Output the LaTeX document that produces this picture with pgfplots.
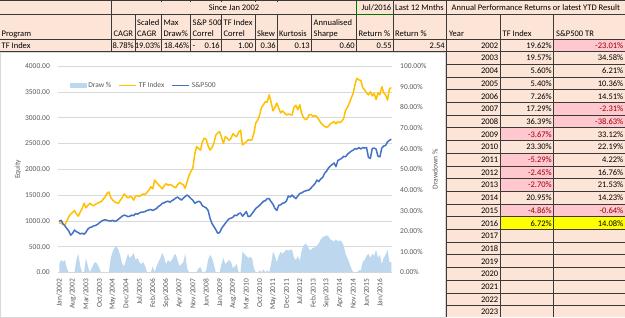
\documentclass[border=0pt]{standalone}
\usepackage{pgfplots}
\pgfplotsset{compat=1.18}
\usepackage{pgfplotstable}
\usepackage{fontspec}
\setmainfont{Carlito}
\definecolor{peach}{HTML}{FCE4D6}
\definecolor{pinkc}{HTML}{FFC7CE}
\definecolor{pinkt}{HTML}{9C0006}
\definecolor{yel}{HTML}{FFFF00}
\definecolor{gold}{HTML}{FFC000}
\definecolor{spblue}{HTML}{4472C4}
\definecolor{ddblue}{HTML}{BDD7EE}
\definecolor{gridgray}{HTML}{D9D9D9}
\definecolor{txtgray}{HTML}{595959}
\definecolor{cellline}{HTML}{3A3A3A}

\pgfplotstableread{
m tf sp dd
0 960 990 4
1 950 1010 6
2 930 940 5
3 920 900 6
4 1000 850 2
5 1080 800 0
6 1130 720 0
7 1160 760 0
8 1200 820 0
9 1130 790 6
10 1090 770 9
11 1170 745 3
12 1240 760 0
13 1340 740 0
14 1250 780 7
15 1300 840 3
16 1340 870 0
17 1310 880 2
18 1290 900 4
19 1320 910 5
20 1340 930 4
21 1360 960 2
22 1370 990 0
23 1420 1010 0
24 1460 1020 0
25 1530 1010 0
26 1560 1000 0
27 1450 995 7
28 1400 1010 10
29 1370 990 12
30 1350 1000 12.5
31 1340 1030 11
32 1400 1060 8
33 1450 1090 4
34 1520 1110 3
35 1480 1100 6
36 1440 1080 9
37 1470 1090 7
38 1460 1110 8
39 1400 1100 9.5
40 1480 1140 6
41 1490 1130 7
42 1470 1150 5
43 1500 1170 4
44 1520 1170 5
45 1510 1180 3
46 1550 1200 0
47 1600 1210 0
48 1660 1220 0
49 1620 1200 3
50 1790 1220 0
51 1740 1240 3
52 1700 1280 5
53 1660 1300 7
54 1620 1340 9.5
55 1680 1350 7
56 1720 1370 4
57 1690 1380 6
58 1700 1360 5
59 1690 1390 6
60 1660 1410 8
61 1640 1440 9
62 1700 1460 6
63 1740 1430 3
64 1720 1400 4
65 1700 1440 5
66 1630 1470 9
67 1760 1500 2
68 1880 1470 0
69 1960 1430 0
70 2020 1400 0
71 2300 1340 0
72 2440 1360 0
73 2400 1380 2
74 2370 1360 2.5
75 2530 1290 0
76 2600 1270 0
77 2580 1250 1
78 2450 1200 6
79 2370 1050 8.5
80 2420 950 7
81 2500 890 4
82 2660 830 0
83 2700 760 0
84 2730 770 0
85 2620 850 4
86 2500 900 7
87 2630 950 4
88 2600 1000 5
89 2560 1040 6
90 2600 1050 5
91 2690 1070 2
92 2650 1110 3
93 2630 1100 4
94 2720 1140 0
95 2760 1150 0
96 2470 1090 10
97 2500 1130 9
98 2530 1180 8
99 2570 1080 7
100 2560 1090 7.5
101 2570 1140 7
102 2700 1190 2
103 2900 1240 0
104 2950 1270 0
105 3050 1300 1
106 3200 1340 0
107 3250 1380 1.5
108 3310 1390 0
109 3300 1430 1
110 3440 1430 0
111 3300 1370 4
112 3130 1320 10
113 3200 1240 8
114 3280 1200 5
115 3180 1300 8
116 3090 1310 10
117 3130 1340 9
118 3090 1350 10
119 3050 1380 11
120 3070 1480 10.5
121 3060 1460 11
122 3050 1500 11
123 3200 1460 7
124 3240 1430 6
125 3150 1480 8
126 3250 1530 5.5
127 3080 1540 10.5
128 3000 1565 13
129 2960 1580 14
130 2980 1590 13
131 3060 1600 11
132 3060 1640 11
133 3020 1680 12
134 3040 1720 12
135 3020 1790 13
136 2960 1760 14
137 2900 1810 16
138 2860 1840 17
139 2830 1920 17.5
140 2810 1960 18
141 2830 2020 17.5
142 2880 2060 16
143 2900 2090 15.5
144 2920 2120 15
145 2880 2050 16
146 2920 2170 15
147 2900 2190 15.5
148 2930 2210 15
149 2980 2250 13
150 3140 2240 9
151 3200 2290 7
152 3280 2320 4.5
153 3380 2350 2
154 3470 2370 0
155 3650 2400 0
156 3760 2390 0
157 3730 2420 1
158 3720 2390 1
159 3580 2420 5
160 3540 2410 6
161 3480 2420 8
162 3440 2230 9
163 3500 2210 7
164 3420 2400 9
165 3470 2410 8
166 3350 2390 11
167 3480 2250 7
168 3440 2240 8.5
169 3600 2410 4
170 3480 2450 7
171 3440 2460 8.5
172 3340 2530 11
173 3560 2560 5
174 3580 2580 5
}\chartdata

\pgfplotsset{
  chartbase/.style={
    at={(58.3pt,-272.4pt)}, anchor=south west,
    scale only axis, width=334pt, height=206.4pt,
    xmin=-0.5, xmax=174.5,
    major tick length=0pt,
    tick style={draw=none},
    ticklabel style={font=\fontsize{7.5}{8.5}\selectfont, text=txtgray, inner sep=0pt},
    clip=false,
  }
}

\begin{document}
\begin{tikzpicture}
\useasboundingbox (0,0) rectangle (625pt,-317pt);
\begin{scope}[x=1pt,y=-1pt]
\fill[peach] (0,0) rectangle (625,317);
% coloured cells
\fill[pinkc] (553.3,38.8) rectangle (625,51.5);
\foreach \k in {5,6,13} {\fill[pinkc] (553.3,{38.8+12.7*\k}) rectangle (625,{51.5+12.7*\k});}
\foreach \k in {7,9,10,11,13} {\fill[pinkc] (500,{38.8+12.7*\k}) rectangle (553.3,{51.5+12.7*\k});}
\fill[yel] (500,{38.8+12.7*14}) rectangle (625,{51.5+12.7*14});
% header lines
\begin{scope}[draw=cellline, line width=0.5pt]
\draw (0,0.6) -- (625,0.6);
\draw (0,14) -- (625,14);
\draw (0,38.8) -- (625,38.8);
\draw (0,51.5) -- (625,51.5);
\foreach \xx in {111.7,135,161.7,190.7,221.7,255,277.3,311.7,356.7,393.3,500,553.3}
  {\draw (\xx,14) -- (\xx,51.5);}
\foreach \xx in {111.7,393.3} {\draw (\xx,0.6) -- (\xx,14);}
\foreach \xx in {161.7,190.7,221.7,255,277.3} {\draw (\xx,0) -- (\xx,1.5);}
\foreach \k in {2,...,22} {\draw (440,{38.8+12.7*\k}) -- (625,{38.8+12.7*\k});}
\draw (500,51.5) -- (500,317);
\draw (553.3,51.5) -- (553.3,317);
\end{scope}
\draw[green!45!black, line width=0.6pt] (356.7,0.6) -- (356.7,14) -- (393.3,14);
\draw[cellline, line width=1.1pt] (446.7,0) -- (446.7,317);
% header texts
\begin{scope}[every node/.style={inner sep=0pt, font=\fontsize{8.5}{9.5}\selectfont}]
\node[anchor=base] at (234,10.5) {Since Jan 2002};
\node[anchor=base east] at (391.5,10.5) {Jul/2016};
\node[anchor=base west] at (395,10.5) {Last 12 Mnths};
\node[anchor=base west] at (451.5,10.5) {Annual Performance Returns or latest YTD Result};
\foreach \xx/\t in {137/Scaled,163.5/Max,192.5/S\&P 500,223.5/TF Index,313.5/Annualised}
  {\node[anchor=base west] at (\xx,25) {\t};}
\foreach \xx/\t in {1.5/Program,113.5/CAGR,137/CAGR,163.5/Draw\%,192.5/Correl,223.5/Correl,257/Skew,279/Kurtosis,313.5/Sharpe,358.5/Return \%,395/Return \%,449/Year,502.5/TF Index,556/S\&P500 TR}
  {\node[anchor=base west] at (\xx,36) {\t};}
\node[anchor=base west] at (1.5,48.2) {TF Index};
\node[anchor=base west] at (192.5,48.2) {-};
\foreach \xx/\t in {134/8.78\%,160.5/19.03\%,189.5/18.46\%,220/0.16,253.5/1.00,276/0.36,310/0.13,355/0.60,392/0.55,445/2.54,498.5/2002,552/19.62\%}
  {\node[anchor=base east] at (\xx,48.2) {\t};}
\node[anchor=base east, text=pinkt] at (623.5,48.2) {-23.01\%};
\foreach \k/\yr/\tf/\sp/\ct/\cs in {
  1/2003/19.57\%/34.58\%/black/black,
  2/2004/5.60\%/6.21\%/black/black,
  3/2005/5.40\%/10.36\%/black/black,
  4/2006/7.26\%/14.51\%/black/black,
  5/2007/17.29\%/-2.31\%/black/pinkt,
  6/2008/36.39\%/-38.63\%/black/pinkt,
  7/2009/-3.67\%/33.12\%/pinkt/black,
  8/2010/23.30\%/22.19\%/black/black,
  9/2011/-5.29\%/4.22\%/pinkt/black,
  10/2012/-2.45\%/16.76\%/pinkt/black,
  11/2013/-2.70\%/21.53\%/pinkt/black,
  12/2014/20.95\%/14.23\%/black/black,
  13/2015/-4.86\%/-0.64\%/pinkt/pinkt,
  14/2016/6.72\%/14.08\%/black/black}
{
  \node[anchor=base east] at (498.5,{48.2+12.7*\k}) {\yr};
  \node[anchor=base east, text=\ct] at (552,{48.2+12.7*\k}) {\tf};
  \node[anchor=base east, text=\cs] at (623.5,{48.2+12.7*\k}) {\sp};
}
\foreach \k/\yr in {15/2017,16/2018,17/2019,18/2020,19/2021,20/2022,21/2023}
  {\node[anchor=base east] at (498.5,{48.2+12.7*\k}) {\yr};}
\end{scope}
% chart area
\fill[white] (0,52) rectangle (445.5,317);
\draw[gridgray, line width=0.5pt] (0.3,52) rectangle (445.5,317.5);
\node[rotate=90, font=\fontsize{7.5}{8.5}\selectfont, text=txtgray, inner sep=0pt] at (18,169.2) {Equity};
\node[rotate=90, font=\fontsize{7.5}{8.5}\selectfont, text=txtgray, inner sep=0pt] at (435,169.2) {Drawdown \%};
\end{scope}

% primary axis: grid and labels
\begin{axis}[chartbase,
  ymin=0, ymax=4000, ytick={0,500,...,4000},
  ymajorgrids, grid style={gridgray, line width=0.6pt},
  axis line style={draw=none},
  yticklabel={\pgfmathprintnumber[fixed,fixed zerofill,precision=2,1000 sep={},assume math mode=true]{\tick}},
  yticklabel shift=8.3pt,
  xtick={0,7,...,168},
  xticklabels={Jan/2002,Aug/2002,Mar/2003,Oct/2003,May/2004,Dec/2004,Jul/2005,Feb/2006,Sep/2006,Apr/2007,Nov/2007,Jun/2008,Jan/2009,Aug/2009,Mar/2010,Oct/2010,May/2011,Dec/2011,Jul/2012,Feb/2013,Sep/2013,Apr/2014,Nov/2014,Jun/2015,Jan/2016},
  xticklabel style={rotate=90, anchor=east},
  xticklabel shift=6pt,
]
\addplot[draw=none, forget plot] coordinates {(0,0)};
\end{axis}

% secondary axis: drawdown area
\begin{axis}[chartbase,
  ymin=0, ymax=100, ytick={0,10,...,100},
  axis y line*=right, axis x line=none,
  axis line style={draw=none},
  yticklabel={\pgfmathprintnumber[fixed,fixed zerofill,precision=2,assume math mode=true]{\tick}\%},
  yticklabel style={anchor=west},
  yticklabel shift=7.7pt,
]
\addplot[fill=ddblue, draw=none] table[x=m, y=dd] {\chartdata} \closedcycle;
\end{axis}

% lines
\begin{axis}[chartbase,
  ymin=0, ymax=4000, hide axis,
  legend columns=3,
  legend style={at={(rel axis cs:0.034,0.9046)}, anchor=west, draw=none, fill=none,
    font=\fontsize{7.5}{8.5}\selectfont, text=txtgray, inner sep=0pt,
    nodes={inner sep=1pt},
    column sep=1pt,
    /tikz/every even column/.append style={column sep=6pt}},
  legend cell align=left,
]
\addlegendimage{legend image code/.code={\fill[ddblue] (0pt,-2pt) rectangle (16pt,2pt);}}
\addlegendentry{Draw \%}
\addplot[gold, line width=1.5pt, line join=round] table[x=m, y=tf] {\chartdata};
\addlegendentry{TF Index}
\addplot[spblue, line width=1.5pt, line join=round] table[x=m, y=sp] {\chartdata};
\addlegendentry{S\&P500}
\end{axis}
\end{tikzpicture}
\end{document}
